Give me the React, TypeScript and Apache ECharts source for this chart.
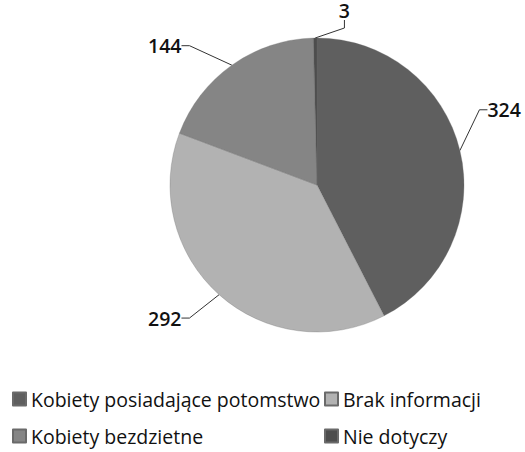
import React, { useEffect, useRef } from "react";
import * as echarts from "echarts";

const categories = ["Kobiety posiadające potomstwo", "Brak informacji", "Kobiety bezdzietne", "Nie dotyczy"];
const values = [324, 292, 144, 3];
const colors = ["#5f5f5f", "#b2b2b2", "#858585", "#4d4d4d"];

// per-slice leader line lengths and label nudges
const lineLen = [16, 22, 30, 14];
const lineLen2 = [8, 8, 8, 8];
const labelDx = [-1, -10, -20, 48];
const labelDy = [-37, 7, 5, -14];

export default function App() {
  const ref = useRef<HTMLDivElement>(null);
  useEffect(() => {
    if (!ref.current) return;
    document.body.style.margin = "0";
    const chart = echarts.init(ref.current, null, { renderer: "svg" });
    const font = "'Open Sans', sans-serif";
    const legendText = { fontSize: 19.5, fontFamily: font, color: "#111", lineHeight: 22 };
    chart.setOption({
      animation: false,
      backgroundColor: "#ffffff",
      color: colors,
      legend: [
        {
          orient: "vertical",
          left: 12,
          top: 388,
          height: 64,
          padding: 0,
          itemWidth: 13,
          itemHeight: 13,
          itemGap: 15,
          icon: "rect",
          data: [categories[0], categories[2]],
          textStyle: legendText,
        },
        {
          orient: "vertical",
          left: 324,
          top: 388,
          height: 64,
          padding: 0,
          itemWidth: 13,
          itemHeight: 13,
          itemGap: 15,
          icon: "rect",
          data: [categories[1], categories[3]],
          textStyle: legendText,
        },
      ],
      series: [
        {
          type: "pie",
          center: [317, 185],
          radius: 147,
          startAngle: 90,
          clockwise: true,
          avoidLabelOverlap: false,
          itemStyle: { borderColor: "#6a6a6a", borderWidth: 0.3 },
          label: {
            show: true,
            position: "outside",
            formatter: "{c}",
            fontSize: 19.5,
            fontWeight: 600,
            fontFamily: font,
            color: "#111",
          },
          labelLine: { show: true, lineStyle: { color: "#333", width: 1 } },
          labelLayout: (p: any) => ({
            x: p.labelRect.x + labelDx[p.dataIndex],
            y: p.labelRect.y + p.labelRect.height / 2 + labelDy[p.dataIndex],
            align: "left",
            verticalAlign: "middle",
          }),
          data: categories.map((name, i) => ({
            name,
            value: values[i],
            itemStyle: { color: colors[i] },
            labelLine: { length: lineLen[i], length2: lineLen2[i] },
          })),
        },
      ],
    });
    return () => chart.dispose();
  }, []);
  return <div ref={ref} style={{ width: 525, height: 452 }} />;
}
